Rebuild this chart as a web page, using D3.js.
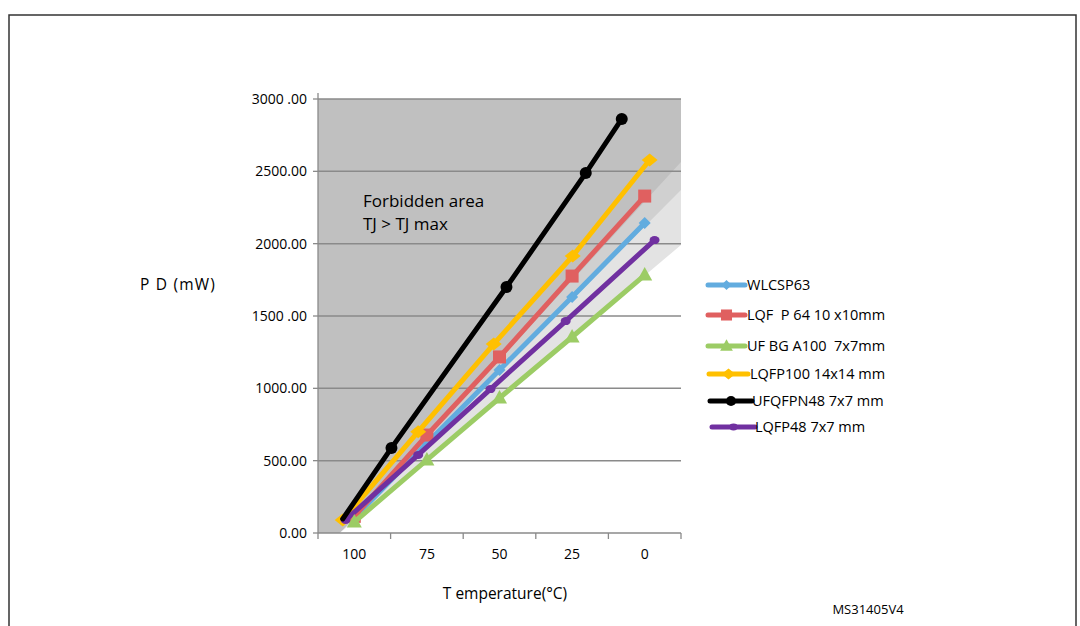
<!DOCTYPE html>
<meta charset="utf-8">
<style>
body { margin: 0; background: #fff; }
svg text { font-family: "Open Sans", "Liberation Sans", sans-serif; fill: #000; white-space: pre; }
.grid line { stroke: #8a8a8a; stroke-width: 1.5; }
.axis line { stroke: #8a8a8a; stroke-width: 1.3; }
.tick-label { font-size: 14px; }
.legend text { font-size: 14.5px; }
</style>
<svg width="1080" height="626"></svg>
<script src="https://cdn.jsdelivr.net/npm/d3@7"></script>
<script>

// data: ambient temperature (°C) vs max power (mW)
var series = ["WLCSP63", "LQF  P 64 10 x10mm", "UF BG A100  7x7mm", "LQFP100 14x14 mm", "UFQFPN48 7x7 mm", "LQFP48 7x7 mm"];
var colors = ["#62acdf", "#e06060", "#9ccc65", "#ffc000", "#000000", "#7030a0"];
var symbols = ["diamond", "square", "triangle", "diamondWide", "circle", "ellipse"];

var tWlcsp   = [100, 75, 50, 25, 0];
var pWlcsp   = [105, 620, 1127, 1631, 2143];
var tLqfp64  = [100, 75, 50, 25, 0];
var pLqfp64  = [115, 677, 1217, 1776, 2329];
var tUfbga   = [100, 75, 50, 25, 0];
var pUfbga   = [76, 505, 933, 1355, 1783];
var tLqfp100 = [104, 78, 52, 24.8, -1.7];
var pLqfp100 = [90, 700, 1306, 1915, 2578];
var tUfqfpn  = [104, 87.2, 47.6, 20.3, 7.9];
var pUfqfpn  = [97, 588, 1700, 2488, 2862];
var tLqfp48  = [103, 78, 53.1, 27.2, -3.4];
var pLqfp48  = [90, 540, 995, 1465, 2025];

var temps = [tWlcsp, tLqfp64, tUfbga, tLqfp100, tUfqfpn, tLqfp48];
var powers = [pWlcsp, pLqfp64, pUfbga, pLqfp100, pUfqfpn, pLqfp48];

var xLabels = ["100", "75", "50", "25", "0"];
var xLabelTemps = [100, 75, 50, 25, 0];
var yTicks = [0, 500, 1000, 1500, 2000, 2500, 3000];
var yLabels = ["0.00", "500.00", "1000.00", "1500 .00", "2000.00", "2500.00", "3000 .00"];

// shaded zones: edges start at (105°C, 0) and end at right edge
var zoneStart = [105, 0];
var zoneEnd = [2564, 2371, 1991];
var zoneFill = ["#d0d0d0", "#e3e3e3", "#ffffff"];

var svg = d3.select("svg");
var plotLeft = 318, plotRight = 681, plotTop = 99, plotBottom = 533;

var x = d3.scaleLinear().domain([112.5, -12.5]).range([plotLeft, plotRight]);
var y = d3.scaleLinear().domain([0, 3000]).range([plotBottom, plotTop]);

// outer frame
svg.append("rect").attr("x", 9).attr("y", 15).attr("width", 1067).attr("height", 640)
  .attr("fill", "none").attr("stroke", "#333").attr("stroke-width", 1.5);

// plot background
svg.append("rect").attr("x", plotLeft).attr("y", plotTop)
  .attr("width", plotRight - plotLeft).attr("height", plotBottom - plotTop)
  .attr("fill", "#c0c0c0");

zoneEnd.forEach(function (p, i) {
  svg.append("path")
    .attr("fill", zoneFill[i])
    .attr("d", "M" + x(zoneStart[0]) + "," + y(zoneStart[1]) +
      "L" + x(-12.5) + "," + y(p) + "L" + x(-12.5) + "," + y(0) + "Z");
});

// gridlines
svg.append("g").attr("class", "grid")
  .selectAll("line").data(yTicks.slice(1)).enter().append("line")
  .attr("x1", plotLeft).attr("x2", plotRight)
  .attr("y1", d => y(d)).attr("y2", d => y(d));

// y axis
var yAxis = svg.append("g").attr("class", "axis");
yAxis.append("line").attr("x1", plotLeft).attr("x2", plotLeft).attr("y1", plotTop - 6).attr("y2", plotBottom);
yAxis.selectAll(".yt").data(yTicks).enter().append("line")
  .attr("x1", plotLeft - 5).attr("x2", plotLeft).attr("y1", d => y(d)).attr("y2", d => y(d));
svg.selectAll(".ylab").data(yTicks).enter().append("text")
  .attr("class", "tick-label")
  .attr("x", 307).attr("y", d => y(d) + 5)
  .attr("text-anchor", "end")
  .text((d, i) => yLabels[i]);

// x axis (category style ticks between labels)
var xAxis = svg.append("g").attr("class", "axis");
xAxis.append("line").attr("x1", plotLeft).attr("x2", plotRight).attr("y1", plotBottom).attr("y2", plotBottom);
var xTickTemps = [112.5, 87.5, 62.5, 37.5, 12.5, -12.5];
xAxis.selectAll(".xt").data(xTickTemps).enter().append("line")
  .attr("x1", d => x(d)).attr("x2", d => x(d)).attr("y1", plotBottom).attr("y2", plotBottom + 6);
svg.selectAll(".xlab").data(xLabelTemps).enter().append("text")
  .attr("class", "tick-label")
  .attr("x", d => x(d)).attr("y", 559)
  .attr("text-anchor", "middle")
  .text((d, i) => xLabels[i]);

// axis titles and notes
svg.append("text").attr("x", 140).attr("y", 290).style("font-size", "15.5px")
  .style("letter-spacing", "1.2px").text("P D (mW)");
svg.append("text").attr("x", 505).attr("y", 599).attr("text-anchor", "middle").style("font-size", "15.5px")
  .text("T emperature(°C)");
svg.append("text").attr("x", 868).attr("y", 614).attr("text-anchor", "middle").style("font-size", "13px")
  .text("MS31405V4");
svg.append("text").attr("x", 363).attr("y", 207).style("font-size", "17px").text("Forbidden area");
svg.append("text").attr("x", 363).attr("y", 230).style("font-size", "17px").text("TJ > TJ max");

function marker(g, type, color, cx, cy, s) {
  if (type === "circle") {
    g.append("circle").attr("cx", cx).attr("cy", cy).attr("r", 6 * s).attr("fill", color);
  } else if (type === "ellipse") {
    g.append("ellipse").attr("cx", cx).attr("cy", cy).attr("rx", 5 * s).attr("ry", 4 * s).attr("fill", color);
  } else if (type === "square") {
    g.append("rect").attr("x", cx - 6.5 * s).attr("y", cy - 6.5 * s).attr("width", 13 * s).attr("height", 13 * s).attr("fill", color);
  } else if (type === "diamond") {
    g.append("path").attr("fill", color)
      .attr("d", `M${cx},${cy - 6 * s}L${cx + 6 * s},${cy}L${cx},${cy + 6 * s}L${cx - 6 * s},${cy}Z`);
  } else if (type === "diamondWide") {
    g.append("path").attr("fill", color)
      .attr("d", `M${cx},${cy - 6.5 * s}L${cx + 8 * s},${cy}L${cx},${cy + 6.5 * s}L${cx - 8 * s},${cy}Z`);
  } else if (type === "triangle") {
    g.append("path").attr("fill", color)
      .attr("d", `M${cx},${cy - 8 * s}L${cx + 7.5 * s},${cy + 5.5 * s}L${cx - 7.5 * s},${cy + 5.5 * s}Z`);
  }
}

// series, drawn so the black line sits over the rest
var order = [0, 1, 3, 5, 2, 4];
var line = d3.line().x(d => x(d[0])).y(d => y(d[1]));
order.forEach(function (i) {
  var pts = temps[i].map((t, k) => [t, powers[i][k]]);
  var g = svg.append("g");
  g.append("path").attr("d", line(pts)).attr("fill", "none")
    .attr("stroke", colors[i]).attr("stroke-width", 5).attr("stroke-linecap", "round")
    .attr("stroke-linejoin", "round");
  pts.forEach(function (p, k) {
    if (i === 4 && k === 0) return;
    marker(g, symbols[i], colors[i], x(p[0]), y(p[1]), 1);
  });
});

// legend
var legY = [285, 315, 346, 374, 401, 427];
var legX0 = [708, 708, 708, 709, 710, 712];
var legX1 = [745, 745, 745, 748, 752, 755];
var legTx = [747, 747, 747, 750, 752, 755];
var legend = svg.append("g").attr("class", "legend");
series.forEach(function (name, i) {
  legend.append("line").attr("x1", legX0[i]).attr("x2", legX1[i])
    .attr("y1", legY[i]).attr("y2", legY[i])
    .attr("stroke", colors[i]).attr("stroke-width", 5).attr("stroke-linecap", "round");
  marker(legend, symbols[i], colors[i], (legX0[i] + legX1[i]) / 2, legY[i], 0.85);
  legend.append("text").attr("x", legTx[i]).attr("y", legY[i] + 5).text(name);
});

</script>
